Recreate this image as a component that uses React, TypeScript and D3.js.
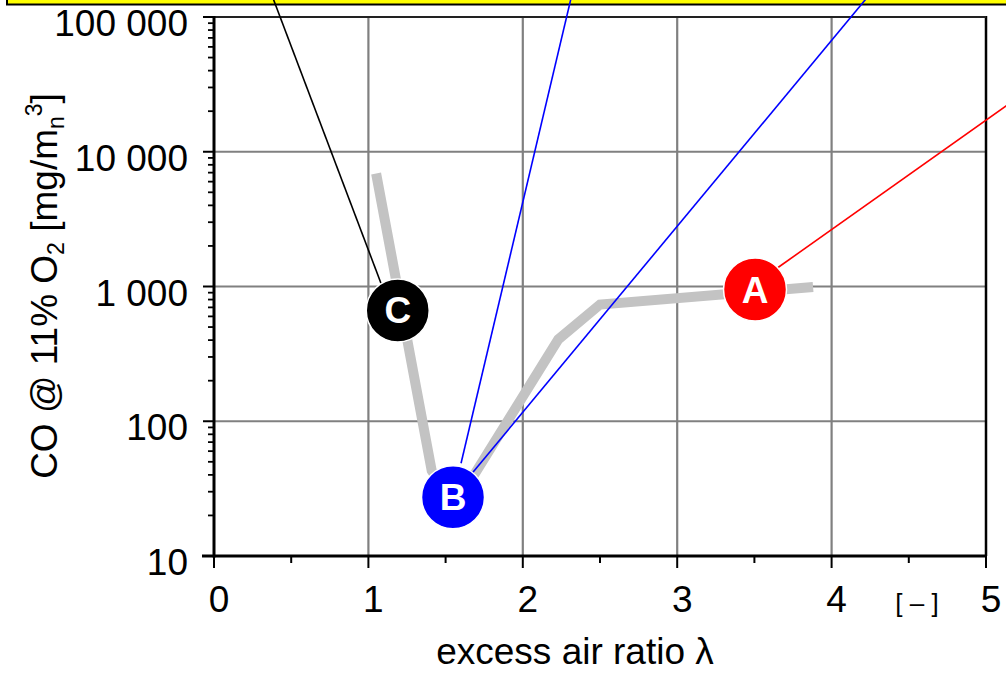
import React from "react";
import * as d3 from "d3";

// ---- data ----
const X_TICKS = [0, 1, 2, 3, 4, 5];
const X_MINOR = [0.5, 1.5, 2.5, 3.5, 4.5];
const Y_TICKS = [10, 100, 1000, 10000, 100000];
const Y_TICK_LABELS = ["10", "100", "1 000", "10 000", "100 000"];

const curveLambda = [1.05, 1.41, 1.52, 1.66, 2.23, 2.5, 3.88];
const curveCO = [6900, 43, 28, 36, 405, 735, 990];

const markerLabels = ["C", "B", "A"];
const markerLambda = [1.19, 1.548, 3.504];
const markerCO = [664, 27.3, 949];
const markerColors = ["#000000", "#0000ff", "#ff0000"];

// leader lines: start (near marker) and far end (outside plot, toward labels)
const leaderStartLambda = [1.082, 1.6, 1.677, 3.653];
const leaderStartCO = [1053, 48.8, 41.8, 1383];
const leaderEndLambda = [0.37, 2.32, 4.253, 5.738];
const leaderEndCO = [150000, 150000, 150000, 68250];
const leaderColors = ["#000000", "#0000ff", "#0000ff", "#ff0000"];

const FONT = "'Liberation Sans', Arial, Helvetica, sans-serif";

export default function App() {
  const W = 1006;
  const H = 673;
  const x = d3.scaleLinear().domain([0, 5]).range([214, 986]);
  const y = d3.scaleLog().domain([10, 100000]).range([556, 17]);

  const minorY: number[] = [];
  for (let d = 10; d < 100000; d *= 10) {
    for (let k = 2; k <= 9; k++) minorY.push(d * k);
  }

  const line = d3
    .line<number>()
    .x((_, i) => x(curveLambda[i]))
    .y((_, i) => y(curveCO[i]));

  const [x0, x1] = x.range();
  const [yb, yt] = y.range();

  return (
    <>
      <style>{`body{margin:0}`}</style>
      <svg
        width={W}
        height={H}
        style={{ position: "absolute", left: 0, top: 0, background: "#fff" }}
        fontFamily={FONT}
      >
        <rect x={0} y={0} width={W} height={H} fill="#ffffff" />
        {/* grid */}
        {X_TICKS.slice(1, -1).map((t) => (
          <line key={"gx" + t} x1={x(t)} x2={x(t)} y1={yb} y2={yt} stroke="#808080" strokeWidth={2.2} />
        ))}
        {Y_TICKS.slice(1).map((t) => (
          <line key={"gy" + t} x1={x0} x2={x1} y1={y(t)} y2={y(t)} stroke="#808080" strokeWidth={2.2} />
        ))}
        {/* curve */}
        <path
          d={line(curveLambda) || ""}
          fill="none"
          stroke="#c3c3c3"
          strokeWidth={10}
          strokeLinejoin="miter"
          strokeLinecap="butt"
        />
        {/* frame */}
        <line x1={x1} x2={x1} y1={yt - 1} y2={yb} stroke="#000" strokeWidth={2.5} />
        <line x1={x0} x2={x1} y1={yt} y2={yt} stroke="#222" strokeWidth={2} />
        <line x1={x0} x2={x0} y1={yt - 1} y2={yb + 1.5} stroke="#000" strokeWidth={3} />
        <line x1={x0 - 12} x2={x1 + 1} y1={yb} y2={yb} stroke="#000" strokeWidth={3} />
        {/* y ticks */}
        {Y_TICKS.map((t) => (
          <line key={"ty" + t} x1={x0 - 11} x2={x0} y1={y(t)} y2={y(t)} stroke="#000" strokeWidth={2} />
        ))}
        {minorY.map((t) => (
          <line key={"my" + t} x1={x0 - 6} x2={x0} y1={y(t)} y2={y(t)} stroke="#000" strokeWidth={1.8} />
        ))}
        {Y_TICKS.map((t, i) => (
          <text key={"ly" + t} x={188} y={y(t) + 19} textAnchor="end" fontSize={37} fill="#000">
            {Y_TICK_LABELS[i]}
          </text>
        ))}
        {/* x ticks */}
        {X_TICKS.map((t) => (
          <line key={"tx" + t} x1={x(t)} x2={x(t)} y1={yb} y2={yb + 12} stroke="#000" strokeWidth={2} />
        ))}
        {X_MINOR.map((t) => (
          <line key={"mx" + t} x1={x(t)} x2={x(t)} y1={yb} y2={yb + 7} stroke="#000" strokeWidth={2} />
        ))}
        {X_TICKS.map((t) => (
          <text key={"lx" + t} x={x(t) + 5} y={612} textAnchor="middle" fontSize={37} fill="#000">
            {String(t)}
          </text>
        ))}
        <text x={917} y={612} textAnchor="middle" fontSize={26} fill="#000">
          {"[ \u2013 ]"}
        </text>
        {/* axis titles */}
        <text x={575} y={664} textAnchor="middle" fontSize={37} fill="#000">
          excess air ratio λ
        </text>
        <text transform="translate(57,286) rotate(-90)" textAnchor="middle" fontSize={37} fill="#000">
          <tspan>CO @ 11% O</tspan>
          <tspan fontSize={23} dy={7}>2</tspan>
          <tspan dy={-7}> [mg/m</tspan>
          <tspan fontSize={23} dy={7}>n</tspan>
          <tspan fontSize={23} dy={-22}>3</tspan>
          <tspan dy={15}>]</tspan>
        </text>
        {/* yellow label box (mostly above the view) */}
        <rect x={7} y={-30} width={1030} height={34.5} fill="#ffff00" stroke="#000" strokeWidth={2} />
        {/* leader lines */}
        {leaderColors.map((c, i) => (
          <line
            key={"ld" + i}
            x1={x(leaderStartLambda[i])}
            y1={y(leaderStartCO[i])}
            x2={x(leaderEndLambda[i])}
            y2={y(leaderEndCO[i])}
            stroke={c}
            strokeWidth={1.6}
          />
        ))}
        {/* markers */}
        {markerLabels.map((m, i) => (
          <g key={"mk" + m} transform={`translate(${x(markerLambda[i])},${y(markerCO[i])})`}>
            <circle r={31.5} fill={markerColors[i]} stroke="#fff" strokeWidth={1.5} />
            <text y={13} textAnchor="middle" fontSize={37} fontWeight="bold" fill="#fff">
              {m}
            </text>
          </g>
        ))}
      </svg>
    </>
  );
}
